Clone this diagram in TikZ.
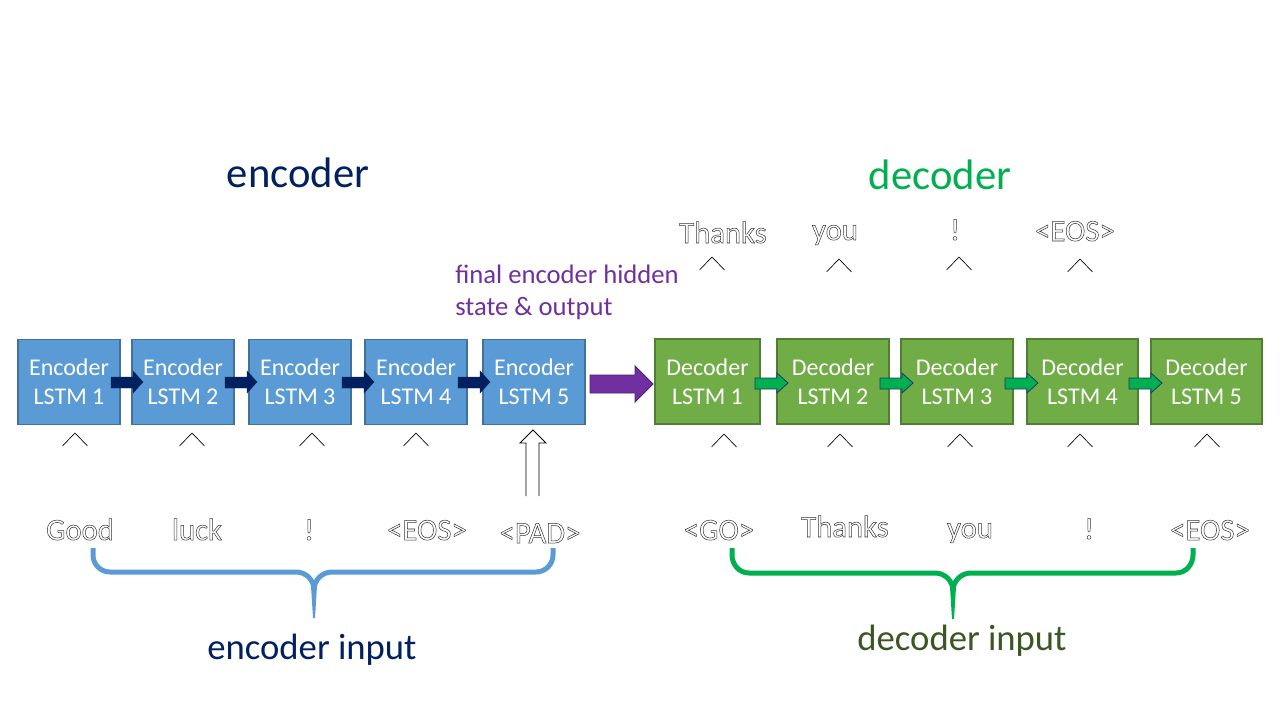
\documentclass[tikz,border=0pt]{standalone}
\usepackage{fontspec}
\setmainfont{Carlito}
\usetikzlibrary{calc}
\definecolor{encblue}{HTML}{5B9BD5}
\definecolor{encedge}{HTML}{41719C}
\definecolor{decgreen}{HTML}{70AD47}
\definecolor{decedge}{HTML}{507E32}
\definecolor{navy}{HTML}{002060}
\definecolor{brightgreen}{HTML}{00B050}
\definecolor{purp}{HTML}{7030A0}
\definecolor{purpedge}{HTML}{4E2170}
\definecolor{darkgreen}{HTML}{385723}
\definecolor{arrowedge}{HTML}{1F3864}
\newcommand\outltxt[1]{\special{pdf:literal direct 1 Tr 0.38 w}#1\special{pdf:literal direct 0 Tr}}
\tikzset{
  encbox/.style={draw=encedge, fill=encblue, line width=0.8pt, minimum height=63.75pt, text=white, align=center, font=\fontsize{18}{21.75}\selectfont, inner sep=0pt},
  decbox/.style={draw=decedge, fill=decgreen, line width=0.8pt, minimum height=63.75pt, text=white, align=center, font=\fontsize{18}{21.75}\selectfont, inner sep=0pt},
  word/.style={anchor=base, text=black!80, font=\fontsize{23}{27}\selectfont, inner sep=0pt},
  caret/.style={draw=black, line width=0.5pt},
  encarrow/.style={fill=navy, draw=navy, line width=0.3pt},
  decarrow/.style={fill=brightgreen, draw=arrowedge, line width=0.6pt},
}
\begin{document}
\begin{tikzpicture}[x=0.75pt, y=-0.75pt]
\useasboundingbox (0,0) rectangle (1280,720);
\fill[white] (0,0) rectangle (1280,720);

% titles
\node[anchor=base, text=navy, font=\fontsize{32}{36}\selectfont, inner sep=0pt] (enctitle) at (298,188) {encoder};
\node[anchor=base, text=brightgreen, font=\fontsize{32}{36}\selectfont, inner sep=0pt] (dectitle) at (940,190) {decoder};
\node[anchor=base west, text=purp, font=\fontsize{20}{24}\selectfont, inner sep=0pt] (fin1) at (455,283) {final encoder hidden};
\node[anchor=base west, text=purp, font=\fontsize{20}{24}\selectfont, inner sep=0pt] (fin2) at (455,315) {state \& output};

% encoder boxes
\node[encbox, minimum width=76.5pt] (e1) at (69,382) {Encoder\\LSTM 1};
\node[encbox, minimum width=76.5pt] (e2) at (183,382) {Encoder\\LSTM 2};
\node[encbox, minimum width=76.5pt] (e3) at (300,382) {Encoder\\LSTM 3};
\node[encbox, minimum width=76.5pt] (e4) at (416,382) {Encoder\\LSTM 4};
\node[encbox, minimum width=76.5pt] (e5) at (534,382) {Encoder\\LSTM 5};

% decoder boxes
\node[decbox, minimum width=78.75pt] (d1) at (707.5,381.5) {Decoder\\LSTM 1};
\node[decbox, minimum width=84pt] (d2) at (833,381.5) {Decoder\\LSTM 2};
\node[decbox, minimum width=84pt] (d3) at (957,381.5) {Decoder\\LSTM 3};
\node[decbox, minimum width=83.25pt] (d4) at (1082.5,381.5) {Decoder\\LSTM 4};
\node[decbox, minimum width=83.25pt] (d5) at (1206.5,381.5) {Decoder\\LSTM 5};

% encoder block arrows
\foreach \a in {111,225,342,458}{
  \draw[encarrow] (\a,377) -- (\a+22,377) -- (\a+22,371) -- (\a+32,382) -- (\a+22,393) -- (\a+22,388) -- (\a,388) -- cycle;
}
% decoder block arrows
\foreach \a in {755,880,1005,1129}{
  \draw[decarrow] (\a,378) -- (\a+22,378) -- (\a+22,373) -- (\a+33,383) -- (\a+22,393) -- (\a+22,389) -- (\a,389) -- cycle;
}
% purple arrow
\draw[fill=purp, draw=purpedge, line width=0.6pt] (590,375) -- (635,375) -- (635,366) -- (653,384) -- (635,402) -- (635,393) -- (590,393) -- cycle;

% white up arrow under encoder 5
\draw[fill=white, draw=black, line width=0.6pt] (526,496) -- (526,443) -- (520,443) -- (533,430) -- (546,443) -- (539,443) -- (539,496);

% carets bottom
\foreach \c in {75,192,312,416}{
  \draw[caret] (\c-12.5,446) -- (\c,433) -- (\c+12.5,446);
}
\foreach \c in {724,840,960,1080,1207}{
  \draw[caret] (\c-12.5,447) -- (\c,434) -- (\c+12.5,447);
}
% carets top
\foreach \c/\t in {712/257,839/259,959/257,1080/259}{
  \draw[caret] (\c-12.5,\t+13) -- (\c,\t) -- (\c+12.5,\t+13);
}

% top words
\node[word] (t1) at (723,243) {\outltxt{Thanks}};
\node[word] (t2) at (835,240) {\outltxt{you}};
\node[word] (t3) at (955,240) {\outltxt{!}};
\node[word] (t4) at (1075,241) {\outltxt{<EOS>}};

% encoder input words
\node[word] (w1) at (80,540) {\outltxt{Good}};
\node[word] (w2) at (197,540) {\outltxt{luck}};
\node[word] (w3) at (309,540) {\outltxt{!}};
\node[word] (w4) at (427,540) {\outltxt{<EOS>}};
\node[word] (w5) at (540,543) {\outltxt{<PAD>}};

% decoder input words
\node[word] (v1) at (719,540) {\outltxt{<GO>}};
\node[word] (v2) at (845,537) {\outltxt{Thanks}};
\node[word] (v3) at (970,538) {\outltxt{you}};
\node[word] (v4) at (1089,539) {\outltxt{!}};
\node[word] (v5) at (1210,540) {\outltxt{<EOS>}};

% blue brace
\draw[encblue, line width=3.75pt] (93,548) -- (93,555) to[out=-90,in=180] (110,572) -- (296,572) to[out=0,in=90] (314,590);
\draw[encblue, line width=3.75pt] (553,548) -- (553,555) to[out=-90,in=0] (536,572) -- (332,572) to[out=180,in=90] (314,590);
\fill[encblue] (311,586) -- (317,586) -- (315,618) -- (313,618) -- cycle;

% green brace
\draw[brightgreen, line width=3.75pt] (732,548) -- (732,555) to[out=-90,in=180] (749,573) -- (935,573) to[out=0,in=90] (953,591);
\draw[brightgreen, line width=3.75pt] (1193,548) -- (1193,555) to[out=-90,in=0] (1176,573) -- (971,573) to[out=180,in=90] (953,591);
\fill[brightgreen] (950,587) -- (956,587) -- (954,619) -- (952,619) -- cycle;

% bottom labels
\node[anchor=base, text=navy, font=\fontsize{27.5}{32}\selectfont, inner sep=0pt] (encin) at (312,659) {encoder input};
\node[anchor=base, text=darkgreen, font=\fontsize{27.5}{32}\selectfont, inner sep=0pt] (decin) at (962,650) {decoder input};
\end{tikzpicture}
\end{document}
